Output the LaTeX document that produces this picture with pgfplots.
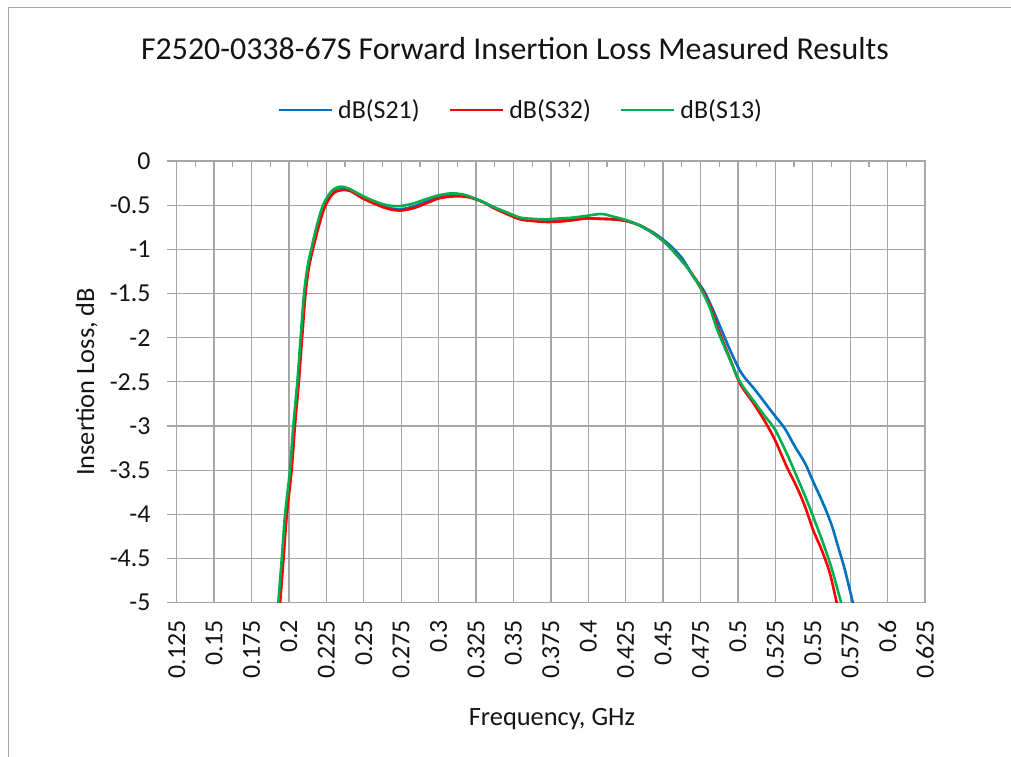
\documentclass[border=0pt]{standalone}
\usepackage{fontspec}
\setmainfont{Carlito}
\usepackage{pgfplots}
\usepackage{pgfplotstable}
\pgfplotsset{compat=1.18}
\definecolor{sA}{RGB}{0,112,192}
\definecolor{sB}{RGB}{255,0,0}
\definecolor{sC}{RGB}{0,176,80}
\definecolor{gridc}{RGB}{166,166,166}
\definecolor{txt}{RGB}{20,20,20}

\pgfplotstableread{
x y
0.1922 -5.3
0.1935 -5.0
0.1958 -4.5
0.1980 -4.0
0.2012 -3.5
0.2034 -3.0
0.2061 -2.5
0.2083 -2.0
0.2106 -1.5
0.2129 -1.2
0.2154 -1.0
0.2190 -0.75
0.2235 -0.50
0.2290 -0.35
0.2345 -0.30
0.2400 -0.32
0.2480 -0.39
0.2570 -0.47
0.2660 -0.53
0.2750 -0.545
0.2840 -0.51
0.2930 -0.45
0.3009 -0.40
0.3100 -0.38
0.3190 -0.40
0.3280 -0.45
0.3365 -0.52
0.3455 -0.59
0.3544 -0.65
0.3633 -0.665
0.3722 -0.67
0.3811 -0.665
0.3900 -0.66
0.3990 -0.65
0.4090 -0.655
0.4167 -0.66
0.4256 -0.68
0.4345 -0.73
0.4434 -0.81
0.4500 -0.89
0.4568 -0.99
0.4635 -1.12
0.4702 -1.31
0.4769 -1.46
0.4835 -1.69
0.4892 -1.92
0.4958 -2.18
0.5025 -2.405
0.5114 -2.59
0.5236 -2.86
0.5314 -3.03
0.5380 -3.23
0.5448 -3.42
0.5503 -3.63
0.5570 -3.88
0.5626 -4.12
0.5670 -4.37
0.5715 -4.63
0.5767 -4.99
0.5790 -5.12
}\sTwoOne

\pgfplotstableread{
x y
0.1928 -5.3
0.1941 -5.0
0.1964 -4.5
0.1986 -4.0
0.2018 -3.5
0.2040 -3.0
0.2066 -2.5
0.2088 -2.0
0.2111 -1.5
0.2134 -1.2
0.2160 -1.0
0.2196 -0.76
0.2240 -0.52
0.2295 -0.37
0.2352 -0.33
0.2410 -0.34
0.2490 -0.42
0.2580 -0.49
0.2670 -0.545
0.2750 -0.56
0.2840 -0.53
0.2930 -0.47
0.3009 -0.42
0.3110 -0.40
0.3200 -0.41
0.3290 -0.46
0.3365 -0.53
0.3455 -0.60
0.3544 -0.66
0.3633 -0.68
0.3722 -0.69
0.3811 -0.685
0.3900 -0.67
0.3990 -0.65
0.4090 -0.655
0.4167 -0.66
0.4256 -0.68
0.4345 -0.73
0.4434 -0.82
0.4500 -0.905
0.4568 -1.02
0.4635 -1.15
0.4690 -1.27
0.4755 -1.44
0.4820 -1.67
0.4870 -1.91
0.4950 -2.25
0.5014 -2.52
0.5103 -2.74
0.5181 -2.95
0.5248 -3.16
0.5326 -3.46
0.5393 -3.69
0.5448 -3.91
0.5503 -4.18
0.5559 -4.40
0.5615 -4.67
0.5659 -4.99
0.5700 -5.25
}\sThreeTwo

\pgfplotstableread{
x y
0.1916 -5.3
0.1929 -5.0
0.1952 -4.5
0.1974 -4.0
0.2007 -3.5
0.2029 -3.0
0.2056 -2.5
0.2078 -2.0
0.2101 -1.5
0.2124 -1.2
0.2149 -1.0
0.2185 -0.74
0.2230 -0.49
0.2286 -0.34
0.2341 -0.29
0.2397 -0.31
0.2475 -0.38
0.2564 -0.45
0.2653 -0.50
0.2742 -0.51
0.2831 -0.48
0.2920 -0.43
0.3009 -0.385
0.3098 -0.366
0.3188 -0.39
0.3277 -0.45
0.3365 -0.52
0.3455 -0.58
0.3544 -0.64
0.3633 -0.655
0.3722 -0.66
0.3811 -0.65
0.3900 -0.64
0.3990 -0.62
0.4090 -0.60
0.4167 -0.63
0.4256 -0.67
0.4345 -0.73
0.4434 -0.82
0.4500 -0.905
0.4568 -1.02
0.4635 -1.15
0.4680 -1.25
0.4750 -1.44
0.4812 -1.66
0.4862 -1.91
0.4947 -2.25
0.5014 -2.50
0.5103 -2.71
0.5181 -2.89
0.5248 -3.04
0.5326 -3.31
0.5393 -3.57
0.5460 -3.84
0.5515 -4.08
0.5570 -4.33
0.5626 -4.61
0.5688 -4.99
0.5737 -5.3
}\sOneThree

\begin{document}
\begin{tikzpicture}
\useasboundingbox (0bp,0bp) rectangle (1011bp,757bp);
\draw[gridc, line width=1bp] (8bp,0bp) -- (8bp,749bp) -- (1011bp,749bp);
\begin{axis}[
  name=ax,
  at={(176.7bp,154.3bp)}, anchor=south west,
  scale only axis, width=748.3bp, height=441.7bp,
  xmin=0.125, xmax=0.625, ymin=-5, ymax=0,
  xtick={0.125,0.15,0.175,0.2,0.225,0.25,0.275,0.3,0.325,0.35,0.375,0.4,0.425,0.45,0.475,0.5,0.525,0.55,0.575,0.6,0.625},
  ytick={0,-0.5,-1,-1.5,-2,-2.5,-3,-3.5,-4,-4.5,-5},
  major tick length=0pt,
  grid=major,
  grid style={gridc, line width=1.3bp},
  axis line style={gridc, line width=1.3bp},
  /pgf/number format/assume math mode=true,
  /pgf/number format/fixed,
  /pgf/number format/precision=3,
  ticklabel style={font=\fontsize{26}{30}\selectfont, text=txt},
  yticklabel style={anchor=east, inner sep=0pt, xshift=-26bp},
  xticklabel style={rotate=90, anchor=east, inner xsep=17bp, inner ysep=0pt},
  xlabel={Frequency, GHz},
  ylabel={Insertion Loss, dB},
  label style={font=\fontsize{26.5}{30}\selectfont, text=txt},
  xlabel style={at={(axis description cs:0.5015,-0.263)}, anchor=center},
  ylabel style={at={(axis description cs:-0.1203,0.5)}, anchor=center},
  legend columns=3,
  legend style={draw=none, fill=none, font=\fontsize{26}{30}\selectfont, text=txt,
    at={(axis description cs:0.1345,1.1155)}, anchor=west, inner sep=0pt,
    /tikz/every odd column/.append style={column sep=5bp},
    /tikz/every even column/.append style={column sep=29bp},
    nodes={inner sep=0pt}},
  legend image code/.code={\draw[#1] (0bp,0bp) -- (53bp,0bp);},
  every axis plot/.append style={line width=2.6bp, smooth, tension=0.55},
]
\addplot[sA] table[x=x,y=y] {\sTwoOne};
\addplot[sB] table[x=x,y=y] {\sThreeTwo};
\addplot[sC] table[x=x,y=y] {\sOneThree};
\legend{dB(S21),dB(S32),dB(S13)}
\end{axis}
\foreach \i in {0,...,10} \draw[gridc, line width=1.3bp] (ax.north west) ++(0bp,-\i*44.17bp) -- ++(-10bp,0bp);
\foreach \i in {0,...,19} \draw[gridc, line width=1.3bp] (ax.north west) ++(18.71bp+\i*37.415bp,0bp) -- ++(0bp,-6bp);
\node[anchor=base, inner sep=0pt, font=\fontsize{32}{37}\selectfont, text=txt] at (515bp,697.7bp) {F2520-0338-67S Forward Insertion Loss Measured Results};
\end{tikzpicture}
\end{document}
